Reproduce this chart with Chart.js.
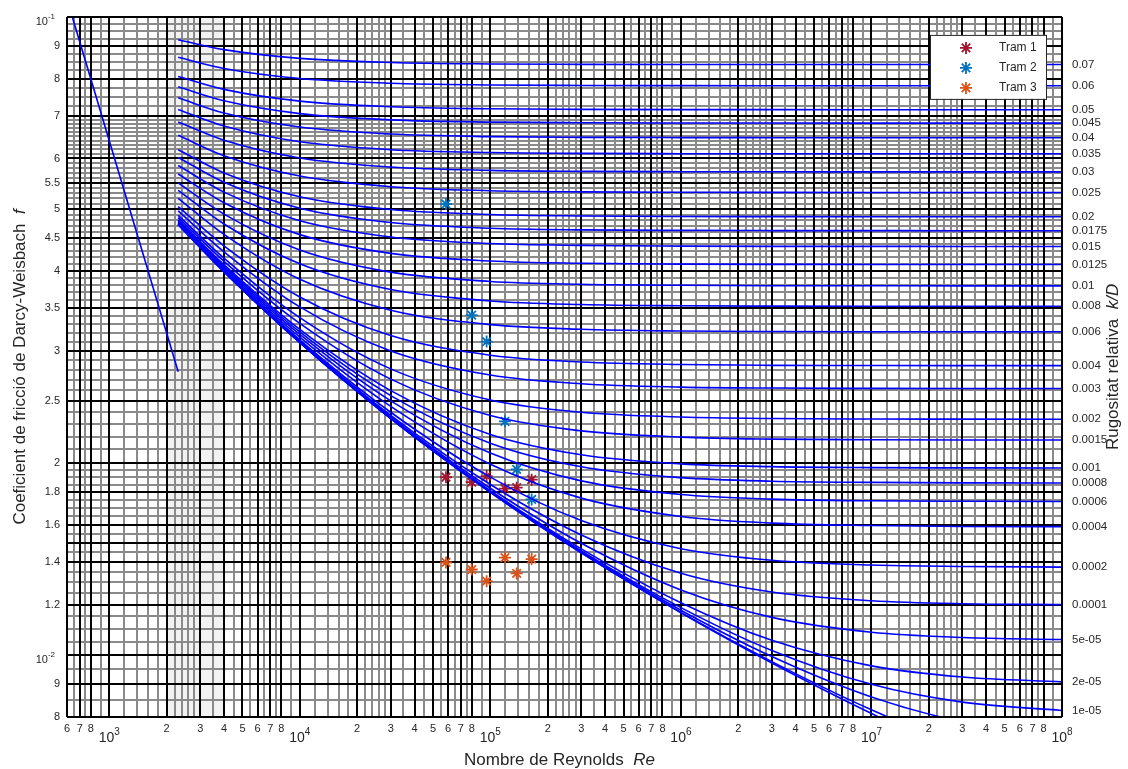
<!DOCTYPE html>
<html>
<head>
<meta charset="utf-8">
<title>Diagrama de Moody</title>
<script src="https://cdn.jsdelivr.net/npm/chart.js@4.4.1/dist/chart.umd.min.js"></script>
<style>
  html, body { margin: 0; padding: 0; background: #fff; }
  canvas { display: block; }
</style>
</head>
<body>
<canvas id="moody" width="1128" height="769"></canvas>
<script>
// Reynolds numbers where the curves were read
const RE = [2300, 4000, 1e4, 3e4, 1e5, 3e5, 1e6, 3e6, 1e7, 3e7, 1e8];

// friction factor f
const f_0p07   = [0.0921, 0.08887, 0.08611, 0.08484, 0.08439, 0.08427, 0.08422, 0.08421, 0.0842, 0.0842, 0.0842];
const f_0p06   = [0.08645, 0.08302, 0.08007, 0.07871, 0.07823, 0.07809, 0.07804, 0.07802, 0.07802, 0.07802, 0.07802];
const f_0p05   = [0.08066, 0.07699, 0.0738, 0.07231, 0.07178, 0.07163, 0.07157, 0.07156, 0.07155, 0.07155, 0.07155];
const f_0p045  = [0.0777, 0.07388, 0.07055, 0.06898, 0.06842, 0.06826, 0.0682, 0.06818, 0.06817, 0.06817, 0.06817];
const f_0p04   = [0.07468, 0.0707, 0.0672, 0.06553, 0.06493, 0.06476, 0.0647, 0.06468, 0.06467, 0.06467, 0.06467];
const f_0p035  = [0.07161, 0.06744, 0.06372, 0.06194, 0.0613, 0.06111, 0.06105, 0.06103, 0.06102, 0.06102, 0.06102];
const f_0p03   = [0.06846, 0.06408, 0.06011, 0.05818, 0.05748, 0.05728, 0.05721, 0.05719, 0.05717, 0.05717, 0.05717];
const f_0p025  = [0.06524, 0.06059, 0.05631, 0.0542, 0.05342, 0.05319, 0.05311, 0.05309, 0.05308, 0.05308, 0.05308];
const f_0p02   = [0.06193, 0.05696, 0.05227, 0.04991, 0.04903, 0.04877, 0.04867, 0.04865, 0.04864, 0.04863, 0.04863];
const f_0p0175 = [0.06023, 0.05507, 0.05015, 0.04762, 0.04666, 0.04638, 0.04629, 0.04626, 0.04625, 0.04624, 0.04624];
const f_0p015  = [0.0585, 0.05314, 0.04793, 0.0452, 0.04415, 0.04385, 0.04374, 0.0437, 0.0437, 0.04369, 0.04369];
const f_0p0125 = [0.05674, 0.05114, 0.04559, 0.04261, 0.04145, 0.04111, 0.04099, 0.04095, 0.04094, 0.04093, 0.04093];
const f_0p01   = [0.05494, 0.04908, 0.04313, 0.03982, 0.0385, 0.03811, 0.03797, 0.03792, 0.03791, 0.0379, 0.0379];
const f_0p008  = [0.05347, 0.04738, 0.04103, 0.03739, 0.03589, 0.03543, 0.03527, 0.03522, 0.0352, 0.0352, 0.0352];
const f_0p006  = [0.05198, 0.04562, 0.0388, 0.03471, 0.03295, 0.0324, 0.0322, 0.03214, 0.03212, 0.03212, 0.03212];
const f_0p004  = [0.05045, 0.04379, 0.03641, 0.03168, 0.0295, 0.02879, 0.02853, 0.02845, 0.02843, 0.02842, 0.02842];
const f_0p003  = [0.04967, 0.04285, 0.03513, 0.02997, 0.02747, 0.02662, 0.0263, 0.02621, 0.02618, 0.02617, 0.02617];
const f_0p002  = [0.04888, 0.04189, 0.03379, 0.02809, 0.02511, 0.02402, 0.02361, 0.02348, 0.02344, 0.02343, 0.02342];
const f_0p0015 = [0.04848, 0.04141, 0.0331, 0.02707, 0.02374, 0.02246, 0.02196, 0.0218, 0.02175, 0.02173, 0.02173];
const f_0p001  = [0.04808, 0.04091, 0.03238, 0.02597, 0.02217, 0.0206, 0.01994, 0.01974, 0.01967, 0.01965, 0.01964];
const f_0p0008 = [0.04793, 0.04071, 0.03209, 0.02551, 0.02148, 0.01973, 0.01897, 0.01873, 0.01865, 0.01862, 0.01861];
const f_0p0006 = [0.04777, 0.04051, 0.0318, 0.02503, 0.02073, 0.01875, 0.01785, 0.01756, 0.01745, 0.01742, 0.01741];
const f_0p0004 = [0.04761, 0.04031, 0.03149, 0.02453, 0.01991, 0.01762, 0.01649, 0.0161, 0.01596, 0.01591, 0.0159];
const f_0p0002 = [0.04745, 0.04011, 0.03119, 0.02402, 0.01901, 0.01625, 0.01468, 0.01408, 0.01384, 0.01377, 0.01374];
const f_0p0001 = [0.04736, 0.04001, 0.03104, 0.02375, 0.01851, 0.01543, 0.01344, 0.01256, 0.01217, 0.01204, 0.012];
const f_5em5   = [0.04732, 0.03996, 0.03096, 0.02362, 0.01826, 0.01497, 0.01265, 0.01146, 0.01086, 0.01066, 0.01058];
const f_2em5   = [0.0473, 0.03992, 0.03092, 0.02354, 0.0181, 0.01467, 0.01208, 0.01055, 0.00962, 0.00924, 0.00908];
const f_1em5   = [0.04729, 0.0399, 0.0309, 0.02351, 0.01804, 0.01457, 0.01187, 0.01017, 0.009, 0.00844, 0.00819];
const f_5em6   = [0.04729, 0.0399, 0.03089, 0.02349, 0.01802, 0.01452, 0.01176, 0.00995, 0.0086, 0.00786, 0.00747];
const f_1em6   = [0.04729, 0.0399, 0.03089, 0.02348, 0.018, 0.01447, 0.01167, 0.00977, 0.00821, 0.00718, 0.00643];
const f_smooth = [0.04729, 0.0399, 0.03088, 0.02348, 0.01799, 0.01446, 0.01165, 0.00972, 0.0081, 0.00695, 0.00594];

// labels of the right axis (one per curve that ends inside the plot)
const kdLabels = ['0.07', '0.06', '0.05', '0.045', '0.04', '0.035', '0.03', '0.025', '0.02', '0.0175',
  '0.015', '0.0125', '0.01', '0.008', '0.006', '0.004', '0.003', '0.002', '0.0015', '0.001',
  '0.0008', '0.0006', '0.0004', '0.0002', '0.0001', '5e-05', '2e-05', '1e-05'];

// laminar line
const laminarRe = [640, 2300];
const laminarF = [0.1, 0.0278];

// measured points
const tramRe = [58500, 79800, 95600, 119300, 137400, 164700];
const tram1F = [0.0190, 0.01867, 0.01908, 0.01824, 0.0183, 0.01883];
const tram2F = [0.0509, 0.0341, 0.0310, 0.02325, 0.01954, 0.01754];
const tram3F = [0.01397, 0.01362, 0.01306, 0.01422, 0.01343, 0.01414];

// axis ticks / grid
const xDecades = [2, 3, 4, 5, 6, 7, 8];
const xMantissas = [1, 2, 3, 4, 5, 6, 7, 8];
const xMinorMantissas = [1.2, 1.4, 1.6, 1.8, 2.2, 2.4, 2.6, 2.8, 3.5, 4.5, 5.5, 6.5, 7.5, 9];
const xPowers = [3, 4, 5, 6, 7, 8];
const yMajor = [0.1, 0.09, 0.08, 0.07, 0.06, 0.055, 0.05, 0.045, 0.04, 0.035, 0.03, 0.025, 0.02,
  0.018, 0.016, 0.015, 0.014, 0.012, 0.01, 0.009, 0.008];
const yMajorLabels = ['', '9', '8', '7', '6', '5.5', '5', '4.5', '4', '3.5', '3', '2.5', '2',
  '1.8', '1.6', '', '1.4', '1.2', '', '9', '8'];
const yMinor = [0.0975, 0.095, 0.0925, 0.0875, 0.085, 0.0825, 0.0775, 0.075, 0.0725,
  0.069, 0.068, 0.067, 0.066, 0.065, 0.064, 0.063, 0.062, 0.061,
  0.059, 0.058, 0.057, 0.056, 0.054, 0.053, 0.052, 0.051,
  0.049, 0.048, 0.047, 0.046, 0.044, 0.043, 0.042, 0.041,
  0.039, 0.038, 0.037, 0.036, 0.034, 0.033, 0.032, 0.031,
  0.029, 0.028, 0.027, 0.026, 0.024, 0.023, 0.022, 0.021,
  0.0195, 0.019, 0.0185, 0.0175, 0.017, 0.0165, 0.0155, 0.0145, 0.0135, 0.013, 0.0125,
  0.0115, 0.011, 0.0105, 0.0095, 0.0085];
const yPowers = [-1, -2];
const criticalZone = [2000, 4000];

const X_MIN = 600, X_MAX = 1e8, Y_MIN = 0.008, Y_MAX = 0.1;
const FONT = '"Liberation Sans", Arial, Helvetica, sans-serif';
const TXT = '#262626';

const curves = [f_0p07, f_0p06, f_0p05, f_0p045, f_0p04, f_0p035, f_0p03, f_0p025, f_0p02, f_0p0175,
  f_0p015, f_0p0125, f_0p01, f_0p008, f_0p006, f_0p004, f_0p003, f_0p002, f_0p0015, f_0p001,
  f_0p0008, f_0p0006, f_0p0004, f_0p0002, f_0p0001, f_5em5, f_2em5, f_1em5, f_5em6, f_1em6, f_smooth];

const xTicks = [];
xDecades.forEach(d => xMantissas.forEach(m => {
  const v = m * Math.pow(10, d);
  if (v >= X_MIN && v <= X_MAX) xTicks.push({ value: v, lbl: m === 1 ? '' : String(m) });
}));
const xMinor = [];
xDecades.forEach(d => xMinorMantissas.forEach(m => {
  const v = m * Math.pow(10, d);
  if (v > X_MIN && v < X_MAX) xMinor.push(v);
}));
const yTicks = yMajor.map((v, i) => ({ value: v, lbl: yMajorLabels[i] }));
const y2Ticks = kdLabels.map((l, i) => ({ value: curves[i][curves[i].length - 1], lbl: l }));

const tramStyle = (label, color, f) => ({
  label: label,
  data: tramRe.map((re, i) => ({ x: re, y: f[i] })),
  showLine: false,
  pointStyle: 'star',
  pointRadius: 6,
  borderWidth: 1.8,
  borderColor: color,
  backgroundColor: color
});
const trams = [
  tramStyle('Tram 1', '#A2142F', tram1F),
  tramStyle('Tram 2', '#0072BD', tram2F),
  tramStyle('Tram 3', '#D95319', tram3F)
];

const datasets = curves.map(arr => ({
  data: RE.map((re, i) => ({ x: re, y: arr[i] })),
  showLine: true,
  borderColor: '#0000ff',
  borderWidth: 1.6,
  pointRadius: 0,
  cubicInterpolationMode: 'monotone'
}));
datasets.push({
  data: laminarRe.map((re, i) => ({ x: re, y: laminarF[i] })),
  showLine: true, borderColor: '#0000ff', borderWidth: 1.6, pointRadius: 0
});
trams.forEach(t => datasets.push(t));

function drawParts(ctx, parts, cx, cy, angle) {
  ctx.save();
  ctx.translate(cx, cy);
  ctx.rotate(angle);
  ctx.textAlign = 'left';
  ctx.textBaseline = 'alphabetic';
  let total = 0;
  parts.forEach(p => { ctx.font = p.font; p.w = ctx.measureText(p.text).width; total += p.w; });
  let xx = -total / 2;
  parts.forEach(p => { ctx.font = p.font; ctx.fillText(p.text, xx, 0); xx += p.w; });
  ctx.restore();
}

function drawPow(ctx, exp, baseSize, expSize, left, baseY, expY) {
  ctx.font = baseSize + 'px ' + FONT;
  const w = ctx.measureText('10').width;
  ctx.fillText('10', left, baseY);
  ctx.font = expSize + 'px ' + FONT;
  ctx.fillText(String(exp), left + w, expY);
}
function powWidth(ctx, exp, baseSize, expSize) {
  ctx.font = baseSize + 'px ' + FONT;
  const w = ctx.measureText('10').width;
  ctx.font = expSize + 'px ' + FONT;
  return w + ctx.measureText(String(exp)).width;
}

const decor = {
  id: 'decor',
  beforeDraw(chart) {
    const { ctx, chartArea: a, scales: { x, y } } = chart;
    ctx.save();
    ctx.fillStyle = '#fff';
    ctx.fillRect(0, 0, chart.width, chart.height);
    const x0 = x.getPixelForValue(criticalZone[0]);
    const x1 = x.getPixelForValue(criticalZone[1]);
    ctx.fillStyle = '#f2f2f2';
    ctx.fillRect(x0, a.top, x1 - x0, a.bottom - a.top);
    ctx.strokeStyle = '#8a8a8a';
    ctx.lineWidth = 2;
    ctx.beginPath();
    xMinor.forEach(v => {
      const px = Math.round(x.getPixelForValue(v));
      ctx.moveTo(px, a.top); ctx.lineTo(px, a.bottom);
    });
    yMinor.forEach(v => {
      const py = Math.round(y.getPixelForValue(v));
      ctx.moveTo(a.left, py); ctx.lineTo(a.right, py);
    });
    ctx.stroke();
    ctx.restore();
  },
  afterDraw(chart) {
    const { ctx, chartArea: a, scales: { x, y } } = chart;
    ctx.save();
    // box
    ctx.strokeStyle = '#000';
    ctx.lineWidth = 1;
    ctx.strokeRect(a.left + 0.5, a.top + 0.5, a.right - a.left - 1, a.bottom - a.top - 1);

    // powers of ten
    ctx.fillStyle = TXT;
    ctx.textAlign = 'left';
    ctx.textBaseline = 'alphabetic';
    xPowers.forEach(p => {
      const px = x.getPixelForValue(Math.pow(10, p));
      const w = powWidth(ctx, p, 14, 10);
      drawPow(ctx, p, 14, 10, px - w / 2, a.bottom + 25, a.bottom + 18);
    });
    yPowers.forEach(p => {
      const py = y.getPixelForValue(Math.pow(10, p));
      const w = powWidth(ctx, p, 11, 8);
      drawPow(ctx, p, 11, 8, a.left - 12 - w, py + 8, py + 2);
    });

    // axis titles
    const cx = (a.left + a.right) / 2, cy = (a.top + a.bottom) / 2;
    const n = '17px ' + FONT, it = 'italic 17px ' + FONT;
    drawParts(ctx, [{ text: 'Nombre de Reynolds  ', font: n }, { text: 'Re', font: it }], cx - 5, 765, 0);
    drawParts(ctx, [{ text: 'Coeficient de fricció de Darcy-Weisbach  ', font: n }, { text: 'f', font: it }], 25, cy, -Math.PI / 2);
    drawParts(ctx, [{ text: 'Rugositat relativa  ', font: n }, { text: 'k/D', font: it }], 1118, cy, -Math.PI / 2);

    // legend
    const lw = 116, lh = 64;
    const lx = a.right - 16 - lw, ly = a.top + 18;
    ctx.fillStyle = '#fff';
    ctx.fillRect(lx, ly, lw, lh);
    ctx.strokeStyle = '#262626';
    ctx.lineWidth = 1;
    ctx.strokeRect(lx + 0.5, ly + 0.5, lw, lh);
    ctx.font = '12px ' + FONT;
    ctx.textBaseline = 'middle';
    trams.forEach((t, i) => {
      const ry = ly + 13 + i * 20;
      ctx.strokeStyle = t.borderColor;
      ctx.fillStyle = t.borderColor;
      ctx.lineWidth = 1.8;
      Chart.helpers.drawPoint(ctx, { pointStyle: 'star', radius: 6, borderWidth: 1.8, rotation: 0 }, lx + 36, ry);
      ctx.fillStyle = TXT;
      ctx.fillText(t.label, lx + 69, ry);
    });
    ctx.restore();
  }
};

new Chart(document.getElementById('moody'), {
  type: 'scatter',
  data: { datasets: datasets },
  options: {
    responsive: false,
    animation: false,
    devicePixelRatio: 1,
    events: [],
    layout: { padding: { top: 15, left: 0, right: 0, bottom: 0 } },
    plugins: { legend: { display: false }, tooltip: { enabled: false } },
    scales: {
      x: {
        type: 'logarithmic',
        min: X_MIN, max: X_MAX,
        afterBuildTicks: s => { s.ticks = xTicks.map(t => ({ value: t.value, lbl: t.lbl })); },
        afterFit: s => { s.height = 52; },
        grid: { color: '#000', lineWidth: 2, drawTicks: false },
        border: { display: false },
        ticks: {
          autoSkip: false, maxRotation: 0, minRotation: 0, padding: 5,
          color: TXT, font: { family: FONT, size: 11 },
          callback: (v, i, ticks) => ticks[i].lbl
        }
      },
      y: {
        type: 'logarithmic',
        position: 'left',
        min: Y_MIN, max: Y_MAX,
        afterBuildTicks: s => { s.ticks = yTicks.map(t => ({ value: t.value, lbl: t.lbl })); },
        afterFit: s => { s.width = 67; },
        grid: { color: '#000', lineWidth: 2, drawTicks: false },
        border: { display: false },
        ticks: {
          autoSkip: false, padding: 7,
          color: TXT, font: { family: FONT, size: 11 },
          callback: (v, i, ticks) => ticks[i].lbl
        }
      },
      y2: {
        type: 'logarithmic',
        position: 'right',
        min: Y_MIN, max: Y_MAX,
        afterBuildTicks: s => { s.ticks = y2Ticks.map(t => ({ value: t.value, lbl: t.lbl })); },
        afterFit: s => { s.width = 66; },
        grid: { display: false, drawTicks: false },
        border: { display: false },
        ticks: {
          autoSkip: false, padding: 10,
          color: TXT, font: { family: FONT, size: 11.5 },
          callback: (v, i, ticks) => ticks[i].lbl
        }
      }
    }
  },
  plugins: [decor]
});
</script>
</body>
</html>
